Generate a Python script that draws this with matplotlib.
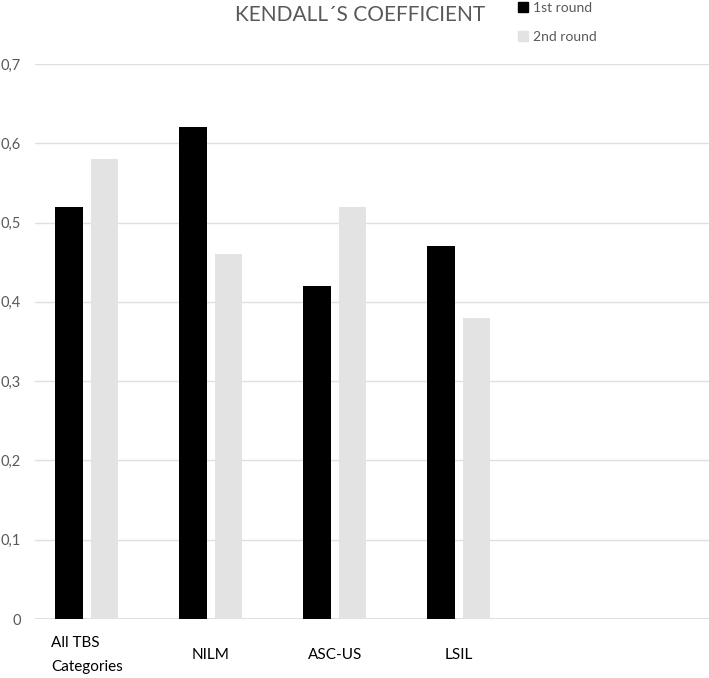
import numpy as np
import matplotlib
matplotlib.use("Agg")
from matplotlib import pyplot as plt
from matplotlib.lines import Line2D
import matplotlib.transforms as mtransforms

plt.rcParams['font.family'] = ['Lato', 'DejaVu Sans']

categories = ["All TBS\nCategories", "NILM", "ASC-US", "LSIL"]
first_round = [0.52, 0.62, 0.42, 0.47]
second_round = [0.58, 0.46, 0.52, 0.38]
yticks = [0, 0.1, 0.2, 0.3, 0.4, 0.5, 0.6, 0.7]
ytick_labels = ["0", "0,1", "0,2", "0,3", "0,4", "0,5", "0,6", "0,7"]

fig = plt.figure(figsize=(7.09, 6.78), dpi=100)
ax = fig.add_axes([0.049, 0.087, 0.951, 0.8186])

x = np.arange(len(categories))
w = 0.222
ax.bar(x - 0.143, first_round, width=w, color='black', zorder=3)
ax.bar(x + 0.143, second_round, width=w, color='#e3e3e3', zorder=3)

ax.set_xlim(-0.419, 5.016)
ax.set_ylim(0, 0.7)
ax.set_yticks(yticks)
ax.set_yticklabels(ytick_labels, color='#595959', fontsize=10.5)
ax.grid(axis='y', color='#e0e0e0', linewidth=1, zorder=0)
ax.tick_params(axis='y', length=0, pad=10)
ax.set_xticks([])
for s in ax.spines.values():
    s.set_visible(False)
ax.axhline(0, color='#d9d9d9', linewidth=1.2, zorder=1)

# category labels sit below the axis, vertically centred like Excel does
trans = mtransforms.blended_transform_factory(ax.transData, ax.transAxes)
for i, c in enumerate(categories):
    ax.text(i, -0.065, c, transform=trans, ha='center', va='center',
            multialignment='left', fontsize=11, color='black', linespacing=1.9)

fig.text(0.508, 0.978, "KENDALL\u00b4S COEFFICIENT", ha='center', va='center',
         fontsize=15, color='#595959')

handles = [Line2D([], [], marker='s', linestyle='none', color='black', markersize=6.5),
           Line2D([], [], marker='s', linestyle='none', color='#e3e3e3', markersize=6.5)]
fig.legend(handles, ["1st round", "2nd round"], loc='upper left',
           bbox_to_anchor=(0.713, 1.016), frameon=False, fontsize=10,
           handlelength=0.7, handletextpad=0.35, labelspacing=1.25, labelcolor='#595959')

fig.savefig("out.png", dpi=100)
